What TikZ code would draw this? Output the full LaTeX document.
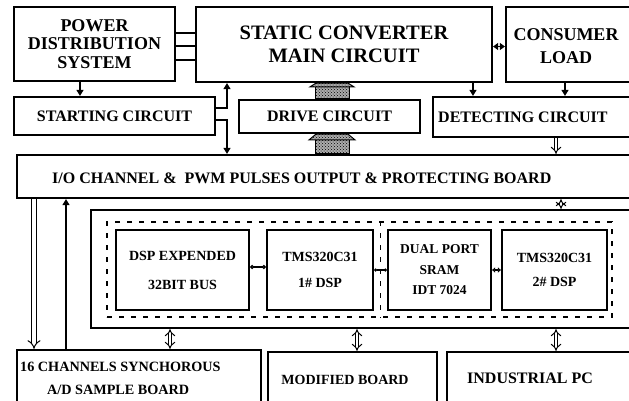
\documentclass[tikz,border=0pt]{standalone}
\usepackage{fontspec}
\setmainfont{Liberation Serif}
\usetikzlibrary{arrows.meta,patterns,calc}

\begin{document}
\begin{tikzpicture}[x=1pt,y=-1pt,
  box/.style={draw,line width=2.2pt,inner sep=0pt,align=center,font=\bfseries},
  dashbox/.style={draw,line width=1.4pt,dash pattern=on 5pt off 7pt,inner sep=0pt},
  dashln/.style={line width=1.4pt,dash pattern=on 5pt off 7pt},
  lbl/.style={inner sep=0pt,font=\bfseries},
  arr/.style={line width=1.3pt,-{Triangle[length=6pt,width=7pt]}},
  dbl/.style={double,double distance=2.6pt,line width=1pt,{Implies}-{Implies}},
  blk/.style={draw=black,line width=1pt,pattern=crosshatch dots,pattern color=black,preaction={fill=gray!65}}]
  \useasboundingbox (0,0) rectangle (629,400);
  \clip (0,0) rectangle (629,400);

  % top row
  \node[box,minimum width=161pt,minimum height=74pt,font=\bfseries\fontsize{18}{18.5}\selectfont] (pds) at (94.5,44) {POWER\\DISTRIBUTION\\SYSTEM};
  \node[box,minimum width=296pt,minimum height=75pt,font=\bfseries\fontsize{20.5}{23}\selectfont] (scm) at (344,44.5) {STATIC CONVERTER\\MAIN CIRCUIT};
  \node[box,minimum width=134pt,minimum height=75pt] (load) at (573,44.5) {};
  \node[lbl,align=center,font=\bfseries\fontsize{18}{23}\selectfont] (loadtxt) at (566,46.5) {CONSUMER\\LOAD};

  % second row
  \node[box,minimum width=201pt,minimum height=38pt,font=\bfseries\fontsize{16}{18}\selectfont] (start) at (114.5,116) {STARTING CIRCUIT};
  \node[box,minimum width=181pt,minimum height=33pt,font=\bfseries\fontsize{16}{18}\selectfont] (drv) at (329.5,116.5) {DRIVE CIRCUIT};
  \node[box,minimum width=207pt,minimum height=40pt] (det) at (536.5,117) {};
  \node[lbl,anchor=base west,font=\bfseries\fontsize{16}{18}\selectfont] (dettxt) at (438,122.5) {DETECTING CIRCUIT};

  % I/O board
  \node[box,minimum width=623pt,minimum height=43pt] (io) at (328.5,176.5) {};
  \node[lbl,anchor=base west,font=\bfseries\fontsize{16}{18}\selectfont] (iotxt) at (52,183.5) {I/O CHANNEL \&\ \ PWM PULSES OUTPUT \& PROTECTING BOARD};

  % DSP board
  \node[box,minimum width=549pt,minimum height=118pt] (board) at (365.5,269) {};
  \node[dashbox,minimum width=505pt,minimum height=95pt] (dsh) at (359.5,269.5) {};
  \node[box,minimum width=133pt,minimum height=80pt,font=\bfseries\fontsize{14}{29}\selectfont] (dspx) at (182.5,270) {DSP EXPENDED\\32BIT BUS};
  \node[box,minimum width=106pt,minimum height=80pt,font=\bfseries\fontsize{14}{26}\selectfont] (dsp1) at (320,270) {TMS320C31\\1\# DSP};
  \node[box,minimum width=103pt,minimum height=80pt,font=\bfseries\fontsize{13.5}{20.5}\selectfont] (sram) at (439.5,270) {DUAL PORT\\SRAM\\IDT 7024};
  \node[box,minimum width=105pt,minimum height=80pt,font=\bfseries\fontsize{14}{24}\selectfont] (dsp2) at (554.5,270) {TMS320C31\\2\# DSP};

  % bottom row
  \node[box,minimum width=244pt,minimum height=70pt] (adc) at (139,385) {};
  \node[lbl,anchor=base west,font=\bfseries\fontsize{14.2}{17}\selectfont] (adctxt) at (20,371) {16 CHANNELS SYNCHOROUS};
  \node[lbl,anchor=base west,font=\bfseries\fontsize{14.2}{17}\selectfont] (adctxtb) at (47,394) {A/D SAMPLE BOARD};
  \node[box,minimum width=169pt,minimum height=68pt] (mod) at (352.5,386) {};
  \node[lbl,font=\bfseries\fontsize{14}{17}\selectfont] (modtxt) at (345,380) {MODIFIED BOARD};
  \node[box,minimum width=193pt,minimum height=68pt] (ipc) at (543.5,386) {};
  \node[lbl,anchor=base west,font=\bfseries\fontsize{16}{18}\selectfont] (ipctxt) at (467,383.5) {INDUSTRIAL PC};

  % x positions of the connectors
  \coordinate (xp) at (80,0);
  \coordinate (xb) at (227,0);
  \coordinate (xh) at (332,0);
  \coordinate (xd) at (473,0);
  \coordinate (xl) at (565,0);
  \coordinate (xr) at (556,0);
  \coordinate (xq) at (561,0);
  \coordinate (xa) at (34,0);
  \coordinate (xu) at (66,0);
  \coordinate (xc) at (170,0);
  \coordinate (xm) at (357,0);

  % power lines
  \foreach \dy in {11,-2,-16}
    \draw[line width=1.5pt] ([yshift=\dy pt]pds.east) -- ([yshift=\dy pt]pds.east -| scm.west);
  \draw[arr] (xp |- pds.south) -- (xp |- start.north);
  \draw[arr] ([yshift=8pt]start.east) -| (xb |- scm.south);
  \draw[arr] ([yshift=-4pt]start.east) -| (xb |- io.north);
  \draw[line width=1.3pt,{Triangle[length=5pt,width=7pt]}-{Triangle[length=5pt,width=7pt]}] ([yshift=-2pt]scm.east) -- ([yshift=-2pt]scm.east -| load.west);
  \draw[arr] (xd |- scm.south) -- (xd |- det.north);
  \draw[arr] (xl |- load.south) -- (xl |- det.north);

  % gate pulses
  \path[blk] ([xshift=-17pt]xh |- drv.north) rectangle ([xshift=17pt,yshift=12pt]xh |- drv.north);
  \path[blk] ([xshift=-22pt,yshift=12pt]xh |- drv.north) -- ([xshift=22pt,yshift=12pt]xh |- drv.north)
    -- ([xshift=16pt]xh |- scm.south) -- ([xshift=-16pt]xh |- scm.south) -- cycle;
  \path[blk] ([xshift=-17pt]xh |- io.north) rectangle ([xshift=17pt,yshift=14pt]xh |- io.north);
  \path[blk] ([xshift=-23pt,yshift=14pt]xh |- io.north) -- ([xshift=23pt,yshift=14pt]xh |- io.north)
    -- ([xshift=16pt]xh |- drv.south) -- ([xshift=-16pt]xh |- drv.south) -- cycle;

  % buses
  \draw[dbl,-{Implies}] (xr |- det.south) -- (xr |- io.north);
  \draw[dbl] (xq |- io.south) -- (xq |- board.north);
  \draw[dbl,double distance=3.5pt,-{Implies}] (xa |- io.south) -- (xa |- adc.north);
  \draw[arr] (xu |- adc.north) -- (xu |- io.south);
  \draw[dbl] (xc |- board.south) -- (xc |- adc.north);
  \draw[dbl] (xm |- board.south) -- (xm |- mod.north);
  \draw[dbl] (xr |- board.south) -- (xr |- ipc.north);

  % inside the DSP board
  \coordinate (mid) at ($(dsp1.east)!.5!(sram.west)$);
  \draw[dashln] (mid |- dsh.north) -- (mid |- dsh.south);
  \draw[line width=1.3pt,{Circle[open,length=4pt]}-{Circle[open,length=4pt]}] ([yshift=3pt]dspx.east) -- ([yshift=3pt]dspx.east -| dsp1.west);
  \draw[line width=1.2pt,{Circle[open,length=3pt]}-{Circle[open,length=3pt]}] (dsp1.east) -- (sram.west);
  \draw[line width=1.2pt,{Triangle[length=3pt,width=5pt]}-{Triangle[length=3pt,width=5pt]}] (sram.east) -- (dsp2.west);
\end{tikzpicture}
\end{document}
